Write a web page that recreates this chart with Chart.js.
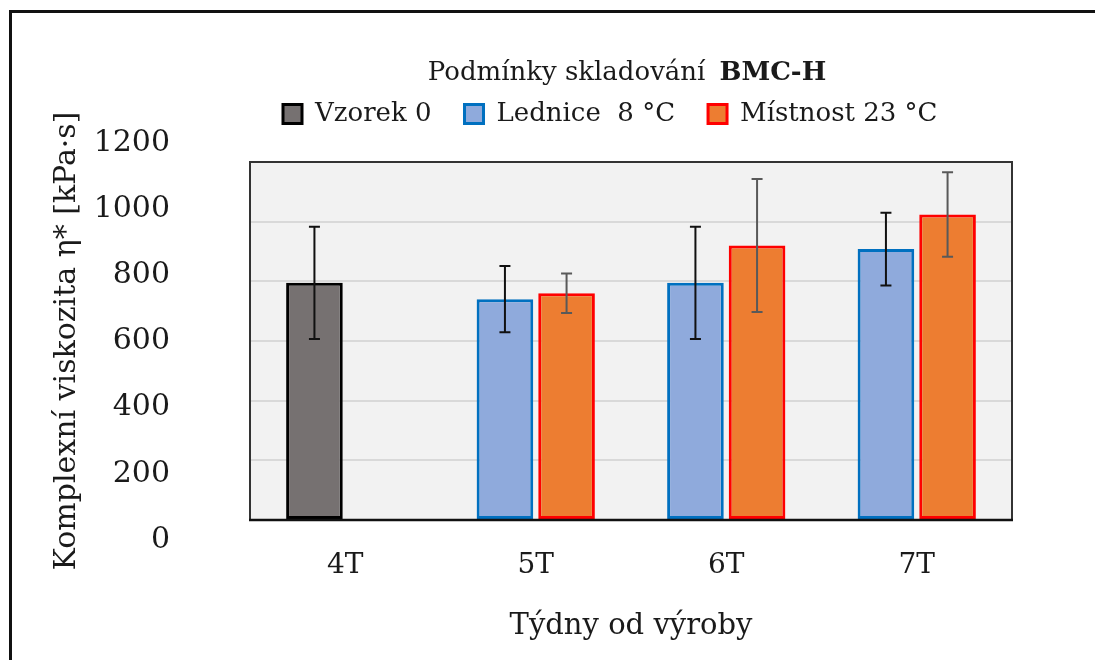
<!DOCTYPE html>
<html>
<head>
<meta charset="utf-8">
<script src="https://cdn.jsdelivr.net/npm/chart.js@4"></script>
<style>
    body { margin: 0; background: #fff; }
    #wrap { position: relative; width: 1095px; height: 660px; overflow: hidden; }
    #frame {
        position: absolute; left: 9px; top: 10px; right: -20px; bottom: -20px;
        border-top: 3px solid #111; border-left: 3px solid #111;
    }
    canvas { position: absolute; left: 0; top: 0; }
</style>
</head>
<body>
<div id="wrap">
    <canvas id="myChart" width="1095" height="660"></canvas>
    <div id="frame"></div>
</div>
<script>
const weeks = ['4T', '5T', '6T', '7T'];

const vzorek = [795, null, null, null];
const vzorekErr = [188, null, null, null];

const lednice = [null, 740, 795, 908];
const ledniceErr = [null, 111, 188, 122];

const mistnost = [null, 760, 920, 1024];
const mistnostErr = [null, 66, 223, 142];

const yTicks = [0, 200, 400, 600, 800, 1000, 1200];

const TEXT = '#1a1a1a';
Chart.defaults.font.family = '"DejaVu Serif", serif';
Chart.defaults.color = TEXT;

// empty layout box that keeps some air between legend and plot
const legendGap = {
    id: 'legendGap',
    beforeInit(chart) {
        Chart.layouts.addBox(chart, {
            position: 'top', weight: 0, fullSize: false,
            options: {},
            left: 0, top: 0, right: 0, bottom: 0, width: 0, height: 0,
            isHorizontal() { return true; },
            update(maxWidth) { this.width = maxWidth; this.height = 25; },
            draw() {}
        });
    }
};

// grey plot background
const plotBackground = {
    id: 'plotBackground',
    beforeDraw(chart) {
        const {ctx, chartArea: a} = chart;
        ctx.save();
        ctx.fillStyle = '#f2f2f2';
        ctx.fillRect(a.left, a.top, a.right - a.left, a.bottom - a.top);
        ctx.restore();
    }
};

// plot frame + error bars
const errorBars = {
    id: 'errorBars',
    afterDatasetsDraw(chart) {
        const {ctx, chartArea: a} = chart;
        const y = chart.scales.y;
        ctx.save();
        ctx.strokeStyle = '#333';
        ctx.lineWidth = 2;
        ctx.beginPath();
        ctx.moveTo(a.left, a.bottom);
        ctx.lineTo(a.left, a.top);
        ctx.lineTo(a.right, a.top);
        ctx.lineTo(a.right, a.bottom);
        ctx.stroke();
        ctx.strokeStyle = '#111';
        ctx.lineWidth = 2.5;
        ctx.beginPath();
        ctx.moveTo(a.left - 1, a.bottom);
        ctx.lineTo(a.right + 1, a.bottom);
        ctx.stroke();

        chart.data.datasets.forEach((ds, i) => {
            const meta = chart.getDatasetMeta(i);
            ctx.strokeStyle = ds.errorColor;
            ctx.lineWidth = 2;
            meta.data.forEach((bar, j) => {
                const v = ds.data[j];
                const e = ds.errors[j];
                if (v == null || e == null) return;
                const top = y.getPixelForValue(v + e);
                const bottom = y.getPixelForValue(v - e);
                ctx.beginPath();
                ctx.moveTo(bar.x, top);
                ctx.lineTo(bar.x, bottom);
                ctx.moveTo(bar.x - 5.5, top);
                ctx.lineTo(bar.x + 5.5, top);
                ctx.moveTo(bar.x - 5.5, bottom);
                ctx.lineTo(bar.x + 5.5, bottom);
                ctx.stroke();
            });
        });
        ctx.restore();
    }
};

// title with the bold sample name
const chartTitle = {
    id: 'chartTitle',
    afterDraw(chart) {
        const {ctx, chartArea: a} = chart;
        const normal = '26px "DejaVu Serif"';
        const bold = 'bold 26px "DejaVu Serif"';
        ctx.save();
        ctx.fillStyle = TEXT;
        ctx.textBaseline = 'middle';
        ctx.font = normal;
        const w1 = ctx.measureText('Podmínky skladování').width;
        ctx.font = bold;
        const w2 = ctx.measureText('BMC-H').width;
        const gap = 14;
        const x0 = (a.left + a.right) / 2 - 4 - (w1 + gap + w2) / 2;
        const ty = a.top - 89;
        ctx.font = normal;
        ctx.fillText('Podmínky skladování', x0, ty);
        ctx.font = bold;
        ctx.fillText('BMC-H', x0 + w1 + gap, ty);
        ctx.restore();
    }
};

const data = {
    labels: weeks,
    datasets: [
        {
            label: 'Vzorek 0',
            data: vzorek,
            errors: vzorekErr,
            errorColor: '#111',
            stack: 'a',
            yAxisID: 'y',
            backgroundColor: '#767171',
            borderColor: '#000',
            borderWidth: 3,
            borderSkipped: false
        },
        {
            label: 'Lednice  8 °C',
            data: lednice,
            errors: ledniceErr,
            errorColor: '#111',
            stack: 'a',
            yAxisID: 'y',
            backgroundColor: '#8faadc',
            borderColor: '#0070c0',
            borderWidth: 3,
            borderSkipped: false
        },
        {
            label: 'Místnost 23 °C',
            data: mistnost,
            errors: mistnostErr,
            errorColor: '#595959',
            stack: 'b',
            yAxisID: 'y',
            backgroundColor: '#ed7d31',
            borderColor: '#ff0000',
            borderWidth: 3,
            borderSkipped: false
        }
    ]
};

const config = {
    type: 'bar',
    data: data,
    options: {
        responsive: false,
        animation: false,
        categoryPercentage: 0.647,
        barPercentage: 0.919,
        layout: {
            padding: { left: 20, right: 83, top: 68, bottom: 0 }
        },
        scales: {
            y: {
                position: 'left',
                min: 0,
                max: 1200,
                ticks: { display: false, stepSize: 200 },
                grid: { color: '#d9d9d9', lineWidth: 2, drawTicks: false },
                border: { display: false }
            },
            yl: {
                position: 'left',
                weight: 1,
                min: 60.45,
                max: 1142.6,
                grid: { display: false },
                border: { display: false },
                afterBuildTicks: (scale) => {
                    scale.ticks = yTicks.map(v => ({ value: v }));
                },
                ticks: {
                    autoSkip: false,
                    padding: 72,
                    font: { size: 30 },
                    callback: (v) => String(v)
                },
                title: {
                    display: true,
                    text: 'Komplexní viskozita η* [kPa·s]',
                    font: { size: 30 },
                    padding: { top: 29, bottom: 0 }
                },
                afterFit: (scale) => { scale.width = 230; }
            },
            x: {
                grid: { display: false },
                border: { display: false },
                ticks: { font: { size: 28 }, padding: 21 },
                title: {
                    display: true,
                    text: 'Týdny od výroby',
                    font: { size: 29 },
                    padding: { top: 0, bottom: 16 }
                },
                afterFit: (scale) => { scale.height = 140; }
            }
        },
        plugins: {
            legend: {
                display: true,
                position: 'top',
                align: 'start',
                fullSize: false,
                labels: {
                    boxWidth: 19,
                    boxHeight: 19,
                    padding: 33,
                    color: TEXT,
                    font: { size: 26 }
                }
            },
            title: { display: false },
            tooltip: { enabled: false }
        }
    },
    plugins: [legendGap, plotBackground, errorBars, chartTitle]
};

new Chart(document.getElementById('myChart'), config);
</script>
</body>
</html>
